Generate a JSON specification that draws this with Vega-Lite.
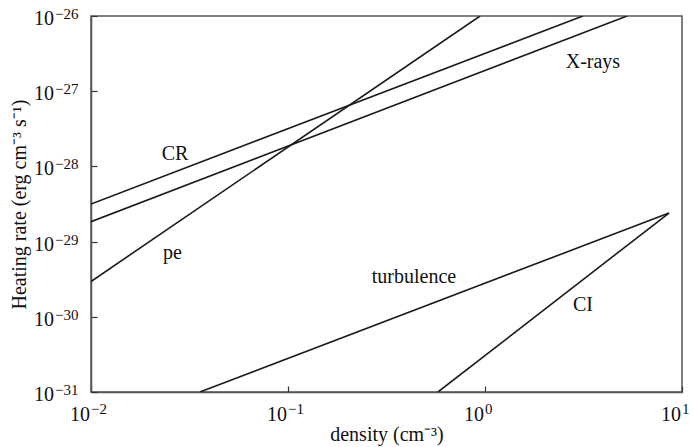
{
  "$schema": "https://vega.github.io/schema/vega-lite/v6.json",
  "width": 591,
  "height": 376,
  "autosize": {"type": "none"},
  "padding": {"left": 91, "top": 16, "right": 12, "bottom": 55},
  "background": "white",
  "config": {
    "view": {"stroke": "#555", "strokeWidth": 1.5},
    "font": "Liberation Serif"
  },
  "datasets": {
    "lines": [
      {"series": "CR", "n": 0.01, "rate": 3.16e-29},
      {"series": "CR", "n": 3.14, "rate": 1e-26},
      {"series": "X-rays", "n": 0.01, "rate": 1.84e-29},
      {"series": "X-rays", "n": 5.26, "rate": 1e-26},
      {"series": "pe", "n": 0.01, "rate": 2.95e-30},
      {"series": "pe", "n": 0.944, "rate": 1e-26},
      {"series": "turbulence", "n": 0.0357, "rate": 1e-31},
      {"series": "turbulence", "n": 8.59, "rate": 2.4e-29},
      {"series": "CI", "n": 0.577, "rate": 1e-31},
      {"series": "CI", "n": 8.59, "rate": 2.4e-29}
    ],
    "labels": [
      {"label": "CR", "n": 0.0267, "rate": 1.46e-28},
      {"label": "X-rays", "n": 3.53, "rate": 2.44e-27},
      {"label": "pe", "n": 0.0259, "rate": 7.05e-30},
      {"label": "turbulence", "n": 0.436, "rate": 3.38e-30},
      {"label": "CI", "n": 3.14, "rate": 1.44e-30}
    ],
    "xticks": [
      {"n": 0.01, "exp": "−2"},
      {"n": 0.1, "exp": "−1"},
      {"n": 1, "exp": "0"},
      {"n": 10, "exp": "1"}
    ],
    "yticks": [
      {"rate": 1e-31, "exp": "−31"},
      {"rate": 1e-30, "exp": "−30"},
      {"rate": 1e-29, "exp": "−29"},
      {"rate": 1e-28, "exp": "−28"},
      {"rate": 1e-27, "exp": "−27"},
      {"rate": 1e-26, "exp": "−26"}
    ]
  },
  "layer": [
    {
      "data": {"name": "lines"},
      "mark": {"type": "line", "color": "#1a1a1a", "strokeWidth": 1.6, "clip": true},
      "encoding": {
        "x": {
          "field": "n", "type": "quantitative",
          "scale": {"type": "log", "domain": [0.01, 10], "nice": false},
          "axis": {
            "title": "density (cm⁻³)",
            "titleFont": "Liberation Serif", "titleFontSize": 20, "titleFontWeight": "normal", "titleColor": "#111",
            "titlePadding": 32,
            "values": [0.01, 0.1, 1, 10],
            "labels": false,
            "tickSize": -6, "tickColor": "#333", "tickWidth": 1.2,
            "domainColor": "#555", "domainWidth": 1.5, "grid": false
          }
        },
        "y": {
          "field": "rate", "type": "quantitative",
          "scale": {"type": "log", "domain": [1e-31, 1e-26], "nice": false},
          "axis": {
            "title": "Heating rate (erg cm⁻³ s⁻¹)",
            "titleFont": "Liberation Serif", "titleFontSize": 20, "titleFontWeight": "normal", "titleColor": "#111",
            "titlePadding": 61,
            "values": [1e-31, 1e-30, 1e-29, 1e-28, 1e-27, 1e-26],
            "labels": false,
            "tickSize": -6, "tickColor": "#333", "tickWidth": 1.2,
            "domainColor": "#555", "domainWidth": 1.5, "grid": false
          }
        },
        "detail": {"field": "series"}
      }
    },
    {
      "data": {"name": "labels"},
      "mark": {"type": "text", "font": "Liberation Serif", "fontSize": 20, "color": "#111", "align": "center", "baseline": "middle"},
      "encoding": {
        "x": {"field": "n", "type": "quantitative"},
        "y": {"field": "rate", "type": "quantitative"},
        "text": {"field": "label"}
      }
    },
    {
      "data": {"name": "xticks"},
      "mark": {"type": "text", "font": "Liberation Serif", "fontSize": 20, "color": "#111", "align": "right", "baseline": "alphabetic", "dx": -1, "dy": 29},
      "encoding": {
        "x": {"field": "n", "type": "quantitative"},
        "y": {"datum": 1e-31, "type": "quantitative"},
        "text": {"value": "10"}
      }
    },
    {
      "data": {"name": "xticks"},
      "mark": {"type": "text", "font": "Liberation Serif", "fontSize": 15, "color": "#111", "align": "left", "baseline": "alphabetic", "dx": 0, "dy": 22},
      "encoding": {
        "x": {"field": "n", "type": "quantitative"},
        "y": {"datum": 1e-31, "type": "quantitative"},
        "text": {"field": "exp"}
      }
    },
    {
      "data": {"name": "yticks"},
      "mark": {"type": "text", "font": "Liberation Serif", "fontSize": 20, "color": "#111", "align": "right", "baseline": "alphabetic", "dx": -37, "dy": 9},
      "encoding": {
        "x": {"datum": 0.01, "type": "quantitative"},
        "y": {"field": "rate", "type": "quantitative"},
        "text": {"value": "10"}
      }
    },
    {
      "data": {"name": "yticks"},
      "mark": {"type": "text", "font": "Liberation Serif", "fontSize": 15, "color": "#111", "align": "left", "baseline": "alphabetic", "dx": -36, "dy": 3},
      "encoding": {
        "x": {"datum": 0.01, "type": "quantitative"},
        "y": {"field": "rate", "type": "quantitative"},
        "text": {"field": "exp"}
      }
    }
  ]
}
